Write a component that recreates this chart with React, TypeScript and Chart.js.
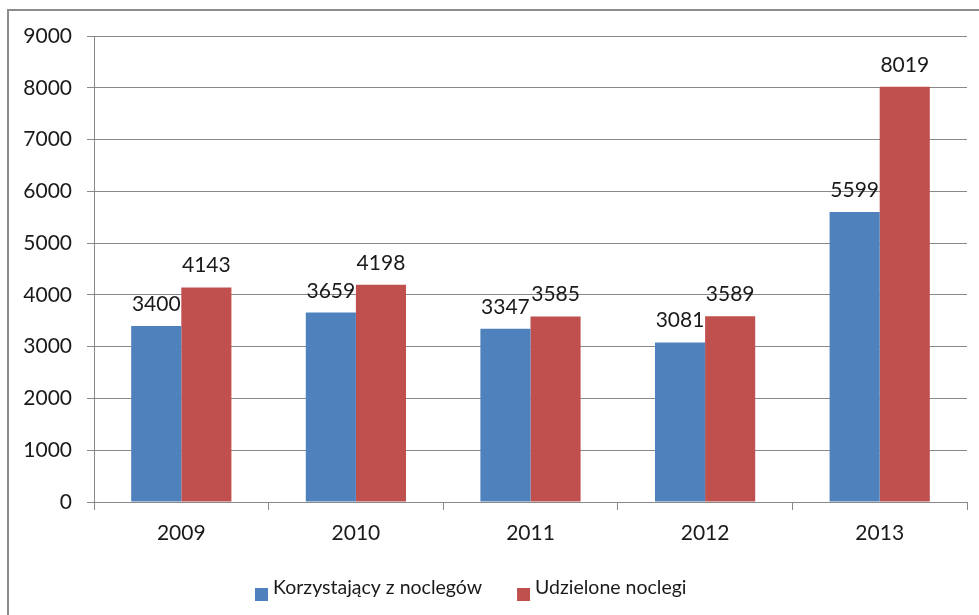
import React, { useEffect, useRef } from "react";
import { Chart, registerables } from "chart.js";

Chart.register(...registerables);

const years = ["2009", "2010", "2011", "2012", "2013"];
const korzystajacy = [3400, 3659, 3347, 3081, 5599];
const udzielone = [4143, 4198, 3585, 3589, 8019];
const seriesNames = ["Korzystający z noclegów", "Udzielone noclegi"];
const seriesColors = ["#4F81BD", "#C0504D"];

const FONT = "Lato, 'Open Sans', sans-serif";
const TEXT = "#1a1a1a";
const GRID = "#888888";

const valueLabels = {
  id: "valueLabels",
  afterDatasetsDraw(chart: any) {
    const ctx = chart.ctx;
    ctx.save();
    ctx.font = `21px ${FONT}`;
    ctx.fillStyle = TEXT;
    ctx.textAlign = "center";
    ctx.textBaseline = "alphabetic";
    chart.data.datasets.forEach((ds: any, i: number) => {
      const meta = chart.getDatasetMeta(i);
      meta.data.forEach((bar: any, j: number) => {
        ctx.fillText(String(ds.data[j]), bar.x, bar.y - 15);
      });
    });
    ctx.restore();
  },
};

const customLegend = {
  id: "customLegend",
  afterDraw(chart: any) {
    const ctx = chart.ctx;
    ctx.save();
    ctx.font = `19.5px ${FONT}`;
    ctx.textBaseline = "alphabetic";
    ctx.textAlign = "left";
    let x = 255;
    const baseline = 594;
    chart.data.datasets.forEach((ds: any) => {
      ctx.fillStyle = ds.backgroundColor;
      ctx.fillRect(x, 588, 13, 13);
      ctx.fillStyle = TEXT;
      ctx.fillText(ds.label, x + 18, baseline);
      x += 18 + ctx.measureText(ds.label).width + 35;
    });
    ctx.restore();
  },
};

export default function App() {
  const ref = useRef<HTMLCanvasElement>(null);
  useEffect(() => {
    if (!ref.current) return;
    const chart = new Chart(ref.current, {
      type: "bar",
      data: {
        labels: years,
        datasets: [
          { label: seriesNames[0], data: korzystajacy, backgroundColor: seriesColors[0] },
          { label: seriesNames[1], data: udzielone, backgroundColor: seriesColors[1] },
        ],
      },
      options: {
        animation: false,
        responsive: false,
        maintainAspectRatio: false,
        layout: { padding: { top: 36, right: 12, left: 0, bottom: 0 } },
        datasets: { bar: { categoryPercentage: 0.574, barPercentage: 1 } } as any,
        plugins: { legend: { display: false }, tooltip: { enabled: false } },
        scales: {
          x: {
            grid: { display: true, drawOnChartArea: false, drawTicks: true, tickLength: 8, color: GRID, offset: true },
            border: { display: true, color: GRID, width: 1 },
            ticks: { color: TEXT, font: { family: FONT, size: 21 }, padding: 11 },
            afterFit: (s: any) => { s.height = 113; },
          },
          y: {
            min: 0,
            max: 9000,
            ticks: {
              stepSize: 1000,
              color: TEXT,
              font: { family: FONT, size: 21 },
              padding: 15,
              callback: (v: any) => String(v),
            },
            grid: { color: GRID, tickLength: 7 },
            border: { display: true, color: GRID, width: 1 },
            afterFit: (s: any) => { s.width = 94; },
          },
        },
      },
      plugins: [valueLabels, customLegend],
    });
    return () => chart.destroy();
  }, []);
  return (
    <div style={{ position: "fixed", left: 0, top: 0, width: 979, height: 615, overflow: "hidden", background: "#fff" }}>
      <div style={{ position: "absolute", left: 7, top: 9, width: 1100, height: 800, border: "2px solid #8c8c8c", boxSizing: "border-box" }} />
      <canvas ref={ref} width={979} height={615} style={{ position: "absolute", left: 0, top: 0, width: 979, height: 615 }} />
    </div>
  );
}
